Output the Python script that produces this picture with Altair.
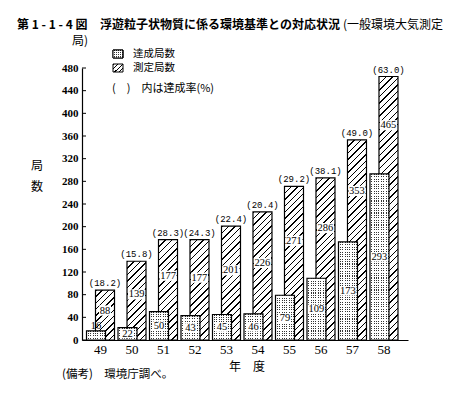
import math
import altair as alt
import pandas as pd

# ---------------- data ----------------
years = ["49", "50", "51", "52", "53", "54", "55", "56", "57", "58"]
achieved = [16, 22, 50, 43, 45, 46, 79, 109, 173, 293]      # 達成局数
measured = [88, 139, 177, 177, 201, 226, 271, 286, 353, 465]  # 測定局数
rates = [18.2, 15.8, 28.3, 24.3, 22.4, 20.4, 29.2, 38.1, 49.0, 63.0]  # 達成率(%)
y_ticks = [0, 40, 80, 120, 160, 200, 240, 280, 320, 360, 400, 440, 480]

title_bold_a = "第 1 - 1 - 4 図"
title_bold_b = "浮遊粒子状物質に係る環境基準との対応状況"
title_norm = "(一般環境大気測定"
title_line2 = "局)"
legend_a = "達成局数"
legend_m = "測定局数"
legend_note = "(　)　内は達成率(%)"
y_title = ["局", "数"]
x_title = "年　度"
footnote = "(備考)　環境庁調べ。"

# ---------------- layout / style ----------------
W, H = 326, 272
YMAX = 480
BAR_W = 19
OFF = 4.5
JP = "Noto Sans CJK JP"
SERIF = "Liberation Serif"
MONO = "Liberation Mono"


def hatch(w, h, spacing=4.6, lw=1.0):
    a, b = w / max(w, h), h / max(w, h)
    k = (a + b) / (a * a + b * b)
    n = max(1, round((w + h) / (spacing * math.sqrt(2))))
    f = min(0.6, lw * math.sqrt(2) * n / (w + h))
    stops = []
    for i in range(n):
        s = i / n
        e = (i + f) / n
        stops += [
            {"offset": round(s, 5), "color": "#000000"},
            {"offset": round(e, 5), "color": "#000000"},
            {"offset": round(e, 5), "color": "#ffffff"},
            {"offset": round((i + 1) / n, 5), "color": "#ffffff"},
        ]
    return {"gradient": "linear", "x1": 0, "y1": 0,
            "x2": round(k * a, 5), "y2": round(k * b, 5), "stops": stops}


def stripes(length, vertical, pitch=2.4, frac=0.45, on="#000000", off="#ffffff"):
    """Straight stripes; used in two layers to build a stipple (dot) texture."""
    n = max(1, round(length / pitch))
    stops = []
    for i in range(n):
        s = i / n
        e = (i + frac) / n
        stops += [
            {"offset": round(s, 5), "color": on},
            {"offset": round(e, 5), "color": on},
            {"offset": round(e, 5), "color": off},
            {"offset": round((i + 1) / n, 5), "color": off},
        ]
    if vertical:
        return {"gradient": "linear", "x1": 0, "y1": 0, "x2": 0, "y2": 1, "stops": stops}
    return {"gradient": "linear", "x1": 0, "y1": 0, "x2": 1, "y2": 0, "stops": stops}


df = pd.DataFrame({"year": years, "a": achieved, "m": measured, "r": rates})
base = alt.Chart(df)

xs = alt.Scale(paddingInner=0, paddingOuter=0.175, align=0.25)
ys = alt.Scale(domain=[0, YMAX], nice=False)

x_enc = alt.X("year:O", sort=years, scale=xs,
              axis=alt.Axis(title=None, ticks=False, labelAngle=0,
                            domainColor="black", domainWidth=1.2,
                            labelFont=SERIF, labelFontSize=13, labelColor="black",
                            labelPadding=3))
y_axis = alt.Axis(title=None, values=y_ticks, ticks=False, grid=False,
                  labelOverlap=False, labelBound=False,
                  domainColor="black", domainWidth=1.2,
                  labelFont=SERIF, labelFontSize=11, labelFontWeight="bold",
                  labelColor="black", labelPadding=4)


def Y(field):
    return alt.Y(field, scale=ys, axis=y_axis)


layers = []

# measured bars (hatched), one layer per bar so that the hatch keeps its pitch
for yv, mv in zip(years, measured):
    hpx = mv * H / YMAX
    layers.append(
        base.transform_filter(alt.datum.year == yv)
        .mark_bar(size=BAR_W, xOffset=OFF, fill=hatch(BAR_W, hpx),
                  stroke="black", strokeWidth=1.2)
        .encode(x=x_enc, y=Y("m:Q"))
    )

# achieved bars (stippled): rows of dots under a mask of columns
for yv, av in zip(years, achieved):
    hpx = av * H / YMAX
    sub = base.transform_filter(alt.datum.year == yv)
    layers.append(
        sub.mark_bar(size=BAR_W, xOffset=-OFF,
                     fill=stripes(hpx, True, on="#333333", off="#ffffff"))
        .encode(x=x_enc, y=Y("a:Q"))
    )
    layers.append(
        sub.mark_bar(size=BAR_W, xOffset=-OFF,
                     fill=stripes(BAR_W, False, frac=0.55,
                                  on="rgba(255,255,255,1)", off="rgba(255,255,255,0)"),
                     stroke="black", strokeWidth=1.2)
        .encode(x=x_enc, y=Y("a:Q"))
    )

# white boxes behind value labels
lab = base.transform_calculate(
    ym="(datum.a + datum.m) / 2",
    ya="datum.a < 20 ? datum.a + 8 : datum.a / 2",
    bwm="length(toString(datum.m)) * 5 + 2",
    bwa="length(toString(datum.a)) * 5 + 2",
    ym0="(datum.a + datum.m) / 2 - 9", ym1="(datum.a + datum.m) / 2 + 9",
    ya0="(datum.a < 20 ? datum.a + 8 : datum.a / 2) - 8",
    ya1="(datum.a < 20 ? datum.a + 8 : datum.a / 2) + 8",
    rl="'(' + format(datum.r, '.1f') + ')'",
)
layers.append(
    lab.mark_bar(xOffset=OFF, fill="white")
    .encode(x=x_enc, y=Y("ym0:Q"), y2="ym1:Q",
            size=alt.Size("bwm:Q", scale=None, legend=None))
)
layers.append(
    lab.transform_filter(alt.datum.a >= 20).mark_bar(xOffset=-OFF, fill="white")
    .encode(x=x_enc, y=Y("ya0:Q"), y2="ya1:Q",
            size=alt.Size("bwa:Q", scale=None, legend=None))
)
layers.append(
    lab.mark_text(xOffset=OFF, font=SERIF, fontSize=10.5, baseline="middle", color="black")
    .encode(x=x_enc, y=Y("ym:Q"), text="m:Q")
)
layers.append(
    lab.mark_text(xOffset=-OFF, font=SERIF, fontSize=10.5, baseline="middle", color="black")
    .encode(x=x_enc, y=Y("ya:Q"), text="a:Q")
)
layers.append(
    lab.mark_text(xOffset=OFF, dy=-7, font=MONO, fontSize=9, baseline="middle", color="black")
    .encode(x=x_enc, y=Y("m:Q"), text="rl:N")
)

# inward y ticks
layers.append(
    alt.Chart(pd.DataFrame({"v": y_ticks})).mark_rule(color="black", strokeWidth=1)
    .encode(y=Y("v:Q"), x=alt.value(0), x2=alt.value(4))
)


def label(text, x, y, size=12, weight="normal", align="left", font=JP):
    return (alt.Chart(pd.DataFrame({"t": [text]}))
            .mark_text(font=font, fontSize=size, fontWeight=weight, align=align,
                       baseline="middle", color="black")
            .encode(text="t:N", x=alt.value(x), y=alt.value(y)))


def swatch(x0, y0, x1, y1, fill):
    return (alt.Chart(pd.DataFrame({"k": [0]}))
            .mark_rect(fill=fill, stroke="black", strokeWidth=1)
            .encode(x=alt.value(x0), x2=alt.value(x1), y=alt.value(y0), y2=alt.value(y1)))


layers += [
    label(title_bold_a, -65, -43, 12, "bold"),
    label(title_bold_b, 18, -43, 12, "bold"),
    label(title_norm, 261, -43, 12),
    label(title_line2, -10, -27, 12),
    swatch(31, -18, 41, -10, stripes(8, True, pitch=2.0, frac=0.5, on="#333333")),
    swatch(31, -18, 41, -10, stripes(10, False, pitch=2.0, frac=0.5,
                                     on="rgba(255,255,255,1)", off="rgba(255,255,255,0)")),
    swatch(31, -4, 41, 4, hatch(10, 8, spacing=3.2, lw=0.9)),
    label(legend_a, 51, -14, 10.5),
    label(legend_m, 51, 0, 10.5),
    label(legend_note, 30, 21, 11),
    label(y_title[0], -45, 98, 12, align="center"),
    label(y_title[1], -45, 119, 12, align="center"),
    label(x_title, 165, 299, 12, align="center"),
    label(footnote, -20, 307, 11.5),
]

chart = (
    alt.layer(*layers)
    .properties(width=W, height=H,
                autosize=alt.AutoSizeParams(type="none"),
                padding={"left": 74, "top": 60, "right": 45, "bottom": 45},
                background="white")
    .configure_view(stroke=None)
)

chart.save("out.html", embed_options={"renderer": "svg", "actions": False})
